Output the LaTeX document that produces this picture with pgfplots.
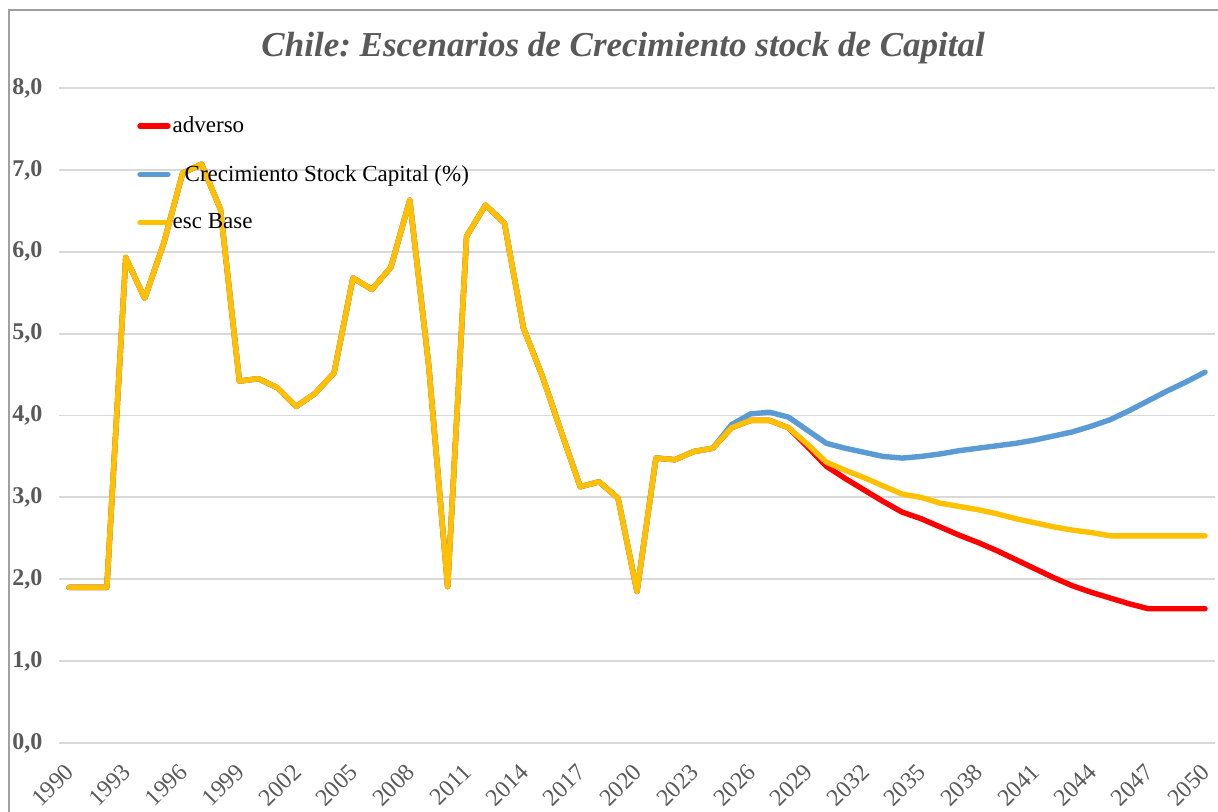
\documentclass[border=0pt]{standalone}
\usepackage{fontspec}
\setmainfont{Liberation Serif}
\usepackage{pgfplots}
\pgfplotsset{compat=1.18}
\usepackage{pgfplotstable}
\frenchspacing

\definecolor{advred}{HTML}{FF0000}
\definecolor{capblue}{HTML}{5B9BD5}
\definecolor{baseyel}{HTML}{FFC000}
\definecolor{gridgray}{HTML}{D9D9D9}
\definecolor{txtgray}{HTML}{595959}
\definecolor{framegray}{HTML}{A0A0A0}

% year, adverso, crecimiento stock capital, esc base
\pgfplotstableread{
year adv cap base
1990 1.90 1.90 1.90
1991 1.90 1.90 1.90
1992 1.90 1.90 1.90
1993 5.93 5.93 5.93
1994 5.43 5.43 5.43
1995 6.10 6.10 6.10
1996 6.96 6.96 6.96
1997 7.07 7.07 7.07
1998 6.52 6.52 6.52
1999 4.42 4.42 4.42
2000 4.45 4.45 4.45
2001 4.34 4.34 4.34
2002 4.11 4.11 4.11
2003 4.27 4.27 4.27
2004 4.52 4.52 4.52
2005 5.68 5.68 5.68
2006 5.54 5.54 5.54
2007 5.81 5.81 5.81
2008 6.63 6.63 6.63
2009 4.61 4.61 4.61
2010 1.91 1.91 1.91
2011 6.19 6.19 6.19
2012 6.57 6.57 6.57
2013 6.35 6.35 6.35
2014 5.07 5.07 5.07
2015 4.48 4.48 4.48
2016 3.80 3.80 3.80
2017 3.13 3.13 3.13
2018 3.19 3.19 3.19
2019 2.99 2.99 2.99
2020 1.85 1.85 1.85
2021 3.48 3.48 3.48
2022 3.46 3.46 3.46
2023 3.56 3.56 3.56
2024 3.60 3.60 3.60
2025 3.85 3.89 3.85
2026 3.94 4.02 3.94
2027 3.94 4.04 3.94
2028 3.85 3.98 3.85
2029 3.62 3.82 3.65
2030 3.38 3.66 3.43
2031 3.23 3.60 3.33
2032 3.09 3.55 3.24
2033 2.95 3.50 3.14
2034 2.82 3.48 3.04
2035 2.74 3.50 3.00
2036 2.64 3.53 2.93
2037 2.54 3.57 2.89
2038 2.45 3.60 2.85
2039 2.35 3.63 2.80
2040 2.24 3.66 2.74
2041 2.13 3.70 2.69
2042 2.02 3.75 2.64
2043 1.92 3.80 2.60
2044 1.84 3.87 2.57
2045 1.77 3.95 2.53
2046 1.70 4.06 2.53
2047 1.64 4.18 2.53
2048 1.64 4.30 2.53
2049 1.64 4.41 2.53
2050 1.64 4.53 2.53
}\datatable

\begin{document}
\begin{tikzpicture}
\useasboundingbox (-29.75pt,-34.5pt) rectangle (579.25pt,371.5pt);
\draw[framegray, line width=0.8pt] (-25.25pt,-40pt) -- (-25.25pt,366.5pt) -- (590pt,366.5pt);
\begin{axis}[
    scale only axis,
    width=577.5pt, height=327.5pt,
    xmin=1989.5, xmax=2050.5,
    ymin=0, ymax=8,
    xtick={1990,1993,...,2050},
    ytick={0,1,...,8},
    axis line style={draw=none},
    tick style={draw=none},
    major tick length=0pt,
    ymajorgrids,
    grid style={gridgray, line width=0.9pt},
    /pgf/number format/assume math mode=true,
    xticklabel style={xshift=2.9pt, yshift=-10pt, rotate=45, anchor=east,
        font=\fontsize{12}{14}\selectfont, text=txtgray,
        /pgf/number format/1000 sep={}},
    yticklabel style={font=\bfseries\fontsize{12}{14}\selectfont, text=txtgray,
        xshift=-5pt,
        /pgf/number format/.cd, use comma, fixed, fixed zerofill, precision=1},
    title={\textbf{\textit{Chile: Escenarios de Crecimiento stock de Capital}}},
    title style={font=\fontsize{17.5}{20}\selectfont, text=txtgray,
        at={(0.488,1)}, anchor=center, yshift=14pt},
    legend cell align=left,
    legend image code/.code={\draw[#1] (0pt,0pt) -- (14pt,0pt);},
    legend style={at={(0.067,0.96)}, anchor=north west, draw=none, fill=none,
        font=\fontsize{11.5}{13}\selectfont, row sep=12.8pt, inner sep=0pt,
        nodes={inner sep=1pt, text=black}},
    every axis plot/.append style={line width=2.7pt, line join=round, line cap=round},
]
\addplot[advred] table[x=year, y=adv] {\datatable};
\addlegendentry{adverso}
\addplot[capblue] table[x=year, y=cap] {\datatable};
\addlegendentry{\hspace{6pt}Crecimiento Stock Capital (\%)}
\addplot[baseyel] table[x=year, y=base] {\datatable};
\addlegendentry{esc Base}
\end{axis}
\end{tikzpicture}
\end{document}
